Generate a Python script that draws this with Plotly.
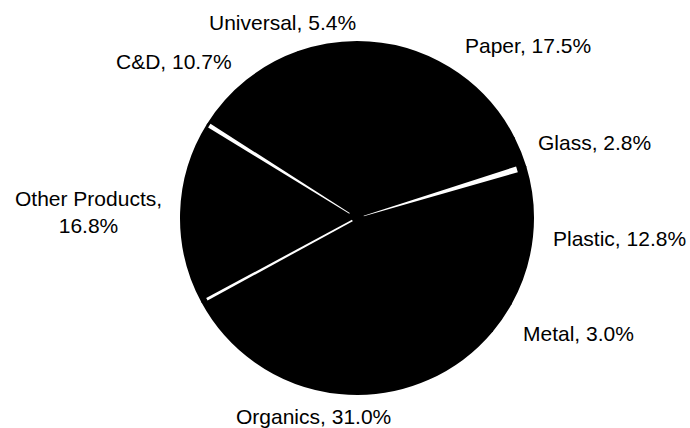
import math
import plotly.graph_objects as go

# Waste composition by material (share of total, %)
categories = ["Paper", "Glass", "Plastic", "Metal", "Organics",
              "Other Products", "C&D", "Universal"]
shares = [17.5, 2.8, 12.8, 3.0, 31.0, 16.8, 10.7, 5.4]

# White separators drawn on the boundary that follows these slices:
# (slice, inner radius fraction, outer radius fraction, half-width at centre px, half-width at rim px)
separators = [
    ("Glass", 0.04, 0.95, 0.3, 3.0),
    ("Organics", 0.03, 0.97, 0.8, 1.4),
    ("Other Products", 0.05, 0.99, 0.4, 2.2),
]

# Label anchor points (pixels from the top-left of the 690x428 canvas)
W, H = 690, 428
label_xy = {
    "Universal": (282, 23),
    "Paper": (528, 45),
    "C&D": (174, 62),
    "Glass": (594, 142),
    "Other Products": (88, 212),
    "Plastic": (619, 238),
    "Metal": (578, 333),
    "Organics": (313, 416),
}
two_line = {"Other Products"}

# Pie placement: centre and radius in pixels
cx, cy, r = 357, 218, 176

fig = go.Figure(go.Pie(
    labels=categories,
    values=shares,
    sort=False,
    direction="clockwise",
    rotation=0,
    textinfo="none",
    hoverinfo="label+percent",
    marker=dict(colors=["black"] * len(categories),
                line=dict(color="black", width=2)),
    domain=dict(x=[(cx - r) / W, (cx + r) / W],
                y=[1 - (cy + r) / H, 1 - (cy - r) / H]),
    showlegend=False,
))


def to_paper(px, py):
    return px / W, 1 - py / H


# Boundary angles follow the running total of the shares (clockwise from 12 o'clock)
total = sum(shares)
running = 0.0
boundary_deg = {}
for name, val in zip(categories, shares):
    running += val
    boundary_deg[name] = 360.0 * running / total

for name, r_in, r_out, hw_in, hw_out in separators:
    t = math.radians(boundary_deg[name])
    ux, uy = math.sin(t), -math.cos(t)      # radial direction (screen coords)
    nx, ny = math.cos(t), math.sin(t)       # normal direction
    pts = []
    for rf, hw, sgn in [(r_in, hw_in, 1), (r_out, hw_out, 1),
                        (r_out, hw_out, -1), (r_in, hw_in, -1)]:
        px = cx + rf * r * ux + sgn * hw * nx
        py = cy + rf * r * uy + sgn * hw * ny
        pts.append(to_paper(px, py))
    path = "M " + " L ".join(f"{x:.5f},{y:.5f}" for x, y in pts) + " Z"
    fig.add_shape(type="path", path=path, xref="paper", yref="paper",
                  fillcolor="white", line=dict(width=0), layer="above")

for name, val in zip(categories, shares):
    sep = ",<br>" if name in two_line else ", "
    px, py = label_xy[name]
    fig.add_annotation(
        text=f"{name}{sep}{val:.1f}%",
        x=px / W, y=1 - py / H, xref="paper", yref="paper",
        xanchor="center", yanchor="middle", showarrow=False,
        align="center",
        font=dict(family="Liberation Sans, Arial, sans-serif", size=21, color="black"),
    )

fig.update_layout(
    width=W, height=H,
    margin=dict(l=0, r=0, t=0, b=0),
    paper_bgcolor="white",
    plot_bgcolor="white",
)

fig.write_html("out.html")
